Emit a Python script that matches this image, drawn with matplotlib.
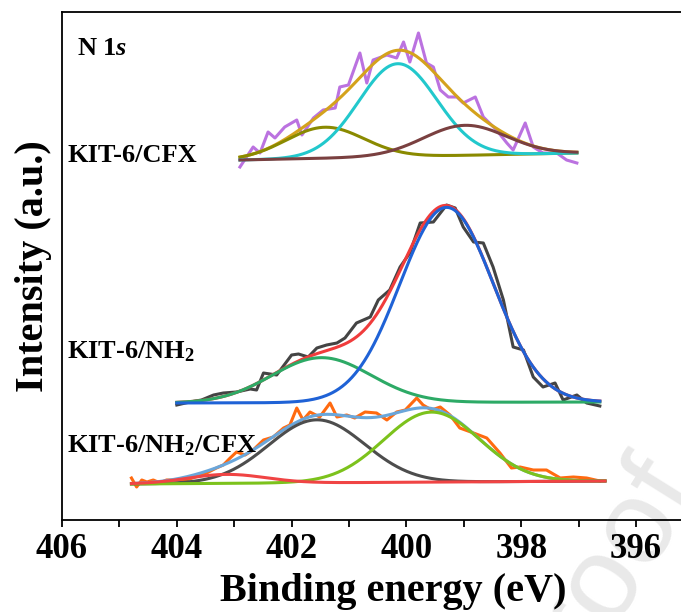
import numpy as np
import matplotlib
matplotlib.use("Agg")
import matplotlib.pyplot as plt
from matplotlib.ticker import MultipleLocator

plt.rcParams['font.family'] = ['Liberation Serif', 'DejaVu Serif']
plt.rcParams['font.weight'] = 'bold'
plt.rcParams['mathtext.fontset'] = 'custom'
plt.rcParams['mathtext.rm'] = 'Liberation Serif:bold'
plt.rcParams['mathtext.bf'] = 'Liberation Serif:bold'
plt.rcParams['mathtext.it'] = 'Liberation Serif:bold:italic'

# --- KIT-6/CFX: raw N 1s counts ---
cfx_be = [402.90, 402.67, 402.55, 402.41, 402.29, 402.12, 401.91, 401.82, 401.62,
          401.45, 401.24, 401.16, 401.01, 400.81, 400.69, 400.58, 400.34, 400.17,
          400.05, 399.94, 399.79, 399.65, 399.53, 399.41, 399.27, 399.12, 399.01,
          398.80, 398.66, 398.43, 398.25, 398.14, 397.93, 397.79, 397.62, 397.38,
          397.21, 397.03]
cfx_counts = [353, 373, 367, 388, 382, 393, 400, 385, 402, 410, 412, 433, 435, 467,
              437, 460, 465, 462, 478, 458, 487, 457, 453, 430, 423, 423, 417, 423,
              403, 390, 377, 370, 397, 373, 367, 367, 360, 357]
cfx_base = [(402.90, 360), (397.03, 367)]
cfx_center = [401.42, 400.15, 398.98]
cfx_fwhm = [1.60, 1.60, 1.70]
cfx_height = [31, 93, 30]
cfx_colors = ['#8a8a00', '#22c8cc', '#7a4040']

# --- KIT-6/NH2 ---
nh2_be = [404.00, 403.77, 403.57, 403.36, 403.19, 402.96, 402.72, 402.61, 402.49,
          402.26, 402.00, 401.88, 401.71, 401.56, 401.39, 401.21, 401.07, 400.87,
          400.63, 400.49, 400.29, 400.11, 399.94, 399.76, 399.53, 399.30, 399.15,
          399.01, 398.83, 398.66, 398.49, 398.31, 398.14, 397.96, 397.79, 397.62,
          397.41, 397.27, 397.03, 396.86, 396.63]
nh2_counts = [115, 118, 120, 125, 127, 128, 131, 130, 147, 145, 165, 166, 163, 172,
              175, 177, 182, 197, 203, 220, 230, 253, 267, 297, 298, 315, 312, 293,
              278, 277, 253, 220, 173, 170, 143, 133, 137, 120, 125, 117, 114]
nh2_base = [(404.00, 117), (396.63, 118)]
nh2_center = [401.48, 399.30]
nh2_fwhm = [2.04, 1.92]
nh2_height = [45, 195]
nh2_colors = ['#2daa66', '#1f62d6']

# --- KIT-6/NH2/CFX ---
mix_be = [404.79, 404.70, 404.61, 404.52, 404.41, 404.29, 404.18, 404.00, 403.83,
          403.68, 403.48, 403.31, 403.19, 403.07, 402.96, 402.81, 402.67, 402.49,
          402.32, 402.14, 402.03, 401.91, 401.80, 401.68, 401.51, 401.33, 401.21,
          401.04, 400.90, 400.72, 400.52, 400.34, 400.17, 400.02, 399.82, 399.71,
          399.56, 399.41, 399.24, 399.07, 398.83, 398.60, 398.37, 398.17, 398.02,
          397.79, 397.56, 397.32, 397.09, 396.86, 396.63]
mix_counts = [42, 33, 40, 38, 40, 37, 40, 40, 40, 43, 47, 52, 55, 62, 68, 65, 70, 80,
              83, 92, 95, 112, 100, 108, 103, 117, 103, 105, 102, 108, 107, 100, 108,
              110, 122, 115, 110, 113, 105, 92, 87, 82, 67, 52, 53, 50, 50, 42, 43,
              42, 39]
mix_base = [(404.79, 36), (396.54, 39)]
mix_center = [401.56, 399.56, 403.13]
mix_fwhm = [1.97, 1.97, 1.60]
mix_height = [63, 70, 9]
mix_colors = ['#4d4d4d', '#7cc21c', '#f04444']

x_ticks = [406, 404, 402, 400, 398, 396]


def baseline(x, base):
    (x0, y0), (x1, y1) = base
    return y0 + (y1 - y0) * (x - x0) / (x1 - x0)


def gauss(x, c, fwhm, h):
    s = fwhm / 2.3548
    return h * np.exp(-(x - c) ** 2 / (2 * s * s))


def draw_spectrum(ax, be, counts, base, centers, fwhms, heights, colors,
                  raw_color, env_color):
    x = np.linspace(base[0][0], base[1][0], 400)
    bg = baseline(x, base)
    comps = [gauss(x, c, w, h) for c, w, h in zip(centers, fwhms, heights)]
    ax.plot(be, counts, color=raw_color, lw=2.2, zorder=2)
    ax.plot(x, bg + np.sum(comps, axis=0), color=env_color, lw=2.2, zorder=3)
    for comp, col in zip(comps, colors):
        ax.plot(x, bg + comp, color=col, lw=2.2, zorder=4)


fig = plt.figure(figsize=(6.81, 6.12), dpi=100)
ax = fig.add_axes([62 / 681, 92 / 612, 619 / 681, 508 / 612])
ax.set_facecolor('none')

draw_spectrum(ax, cfx_be, cfx_counts, cfx_base, cfx_center, cfx_fwhm, cfx_height,
              cfx_colors, '#bb72e0', '#d4a21c')
draw_spectrum(ax, nh2_be, nh2_counts, nh2_base, nh2_center, nh2_fwhm, nh2_height,
              nh2_colors, '#444444', '#f03c3c')
draw_spectrum(ax, mix_be, mix_counts, mix_base, mix_center, mix_fwhm, mix_height,
              mix_colors, '#ff6a10', '#6aa6da')

ax.set_xlim(406, 406 - 619 / 57.4)
ax.set_ylim(0, 508)
ax.set_xticks(x_ticks)
ax.xaxis.set_minor_locator(MultipleLocator(1))
ax.set_yticks([])
ax.tick_params(axis='x', which='both', direction='out', length=5, width=1.3,
               labelsize=25, pad=4)
for sp in ['left', 'bottom', 'top']:
    ax.spines[sp].set_linewidth(1.3)
ax.spines['right'].set_visible(False)

ax.set_xlabel('Binding energy (eV)', fontsize=29, fontweight='bold')
ax.xaxis.set_label_coords((393 - 62) / 619, -0.104)
ax.set_ylabel('Intensity (a.u.)', fontsize=29, fontweight='bold')
ax.yaxis.set_label_coords(-0.016, 0.5)

ax.text(405.74, 465, r'N 1$s$', fontsize=19, va='baseline')
ax.text(405.91, 358, 'KIT-6/CFX', fontsize=19, va='baseline')
ax.text(405.91, 162, r'KIT-6/NH$_2$', fontsize=19, va='baseline')
ax.text(405.91, 68, r'KIT-6/NH$_2$/CFX', fontsize=19, va='baseline')

fig.text(1.030, 0.198, 'Journal Pre-proof', fontsize=86, family='Liberation Sans',
         fontweight='normal', color='#e9e9e9', rotation=58, rotation_mode='anchor',
         ha='right', va='baseline', zorder=-1)

fig.savefig('out.png', dpi=100)
